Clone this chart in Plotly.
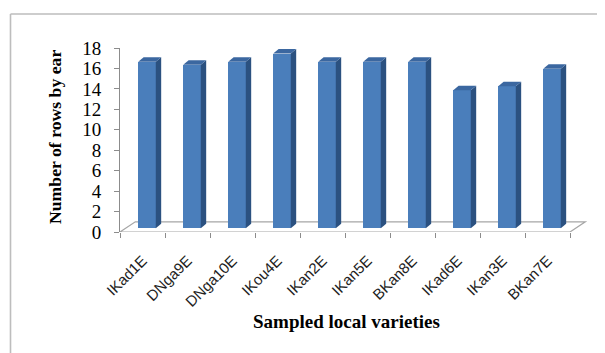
import plotly.graph_objects as go

categories = ["IKad1E", "DNga9E", "DNga10E", "IKou4E", "IKan2E",
              "IKan5E", "BKan8E", "IKad6E", "IKan3E", "BKan7E"]
rows_by_ear = [16.3, 16.0, 16.3, 17.1, 16.3, 16.3, 16.3, 13.5, 13.9, 15.6]
y_ticks = [0, 2, 4, 6, 8, 10, 12, 14, 16, 18]

# page body has an 8px margin; lay out in reference pixels minus that offset
OFF = 8
W, H = 605 - OFF, 353 - OFF
L, R, T, B = 120 - OFF, 17, 48 - OFF, 121
PW, PH = W - L - R, H - T - B
XMIN, XMAX = -0.5, 9.9
YMIN, YMAX = 0, 18

def px_x(p):
    return (p - OFF - L) / PW

def px_y(p):
    return (H - B - (p - OFF)) / PH

# 3D styling (in axis units)
shift = 0.10
bw = 0.39
dx = 0.12
dy = 0.44
base = 0.36
floor_dx, floor_dy = 0.34, 1.0

FRONT = "#4A7EBB"
SIDE = "#2B5180"
TOP = "#3B67A0"

fig = go.Figure()

xs = list(range(len(categories)))
fig.add_trace(go.Bar(
    x=[i + shift for i in xs], y=rows_by_ear, base=base, width=bw,
    marker=dict(color=FRONT, line=dict(width=0)), showlegend=False,
    hoverinfo="skip"))

for i, v in zip(xs, rows_by_ear):
    x0 = i + shift - bw / 2
    x1 = i + shift + bw / 2
    top = base + v
    fig.add_trace(go.Scatter(
        x=[x1, x1 + dx, x1 + dx, x1, x1],
        y=[base, base + dy, top + dy, top, base],
        fill="toself", fillcolor=SIDE, mode="lines",
        line=dict(width=0, color=SIDE), showlegend=False, hoverinfo="skip"))
    fig.add_trace(go.Scatter(
        x=[x0, x1, x1 + dx, x0 + dx, x0],
        y=[top, top, top + dy, top + dy, top],
        fill="toself", fillcolor=TOP, mode="lines",
        line=dict(width=0, color=TOP), showlegend=False, hoverinfo="skip"))

fx0, fx1 = -0.5, len(categories) - 0.5
fig.add_shape(type="path",
              path=f"M {fx0},0 L {fx1},0 L {fx1 + floor_dx},{floor_dy} L {fx0 + floor_dx},{floor_dy} Z",
              xref="x", yref="y", line=dict(color="#A6A6A6", width=1.2),
              layer="below")

fig.add_shape(type="line", xref="paper", yref="paper",
              x0=px_x(10.5), x1=px_x(610), y0=px_y(14), y1=px_y(14),
              line=dict(color="#BDBDBD", width=1.6))
fig.add_shape(type="line", xref="paper", yref="paper",
              x0=px_x(10.5), x1=px_x(10.5), y0=px_y(14), y1=px_y(360),
              line=dict(color="#BDBDBD", width=1.6))

serif = "Liberation Serif, Times New Roman, serif"

fig.add_annotation(text="<b>Number of rows by ear</b>", textangle=-90,
                   xref="paper", yref="paper", x=px_x(55), y=px_y(137),
                   showarrow=False, font=dict(family=serif, size=17.7, color="black"),
                   xanchor="center", yanchor="middle")
fig.add_annotation(text="<b>Sampled local varieties</b>",
                   xref="paper", yref="paper", x=px_x(346), y=px_y(321),
                   showarrow=False, font=dict(family=serif, size=19, color="black"),
                   xanchor="center", yanchor="middle")

fig.update_layout(
    width=W, height=H,
    margin=dict(l=L, r=R, t=T, b=B, autoexpand=False),
    paper_bgcolor="white", plot_bgcolor="white",
    bargap=0,
    xaxis=dict(range=[XMIN, XMAX], tickvals=xs, ticktext=categories,
               tickangle=-45, ticks="", showgrid=False, zeroline=False,
               showline=False, ticklabelstandoff=16,
               tickfont=dict(family="Liberation Sans", size=15, color="#222"),
               minor=dict(tickvals=[i - 0.5 for i in range(len(categories) + 1)],
                          ticks="outside", ticklen=5, tickcolor="#8C8C8C",
                          showgrid=False)),
    yaxis=dict(range=[YMIN, YMAX], tickvals=y_ticks, ticks="outside", ticklen=5,
               tickcolor="#8C8C8C", showline=True, linecolor="#8C8C8C",
               linewidth=1, showgrid=False, zeroline=False,
               ticklabelstandoff=9,
               tickfont=dict(family=serif, size=19, color="black")),
)

fig.write_html("out.html")
